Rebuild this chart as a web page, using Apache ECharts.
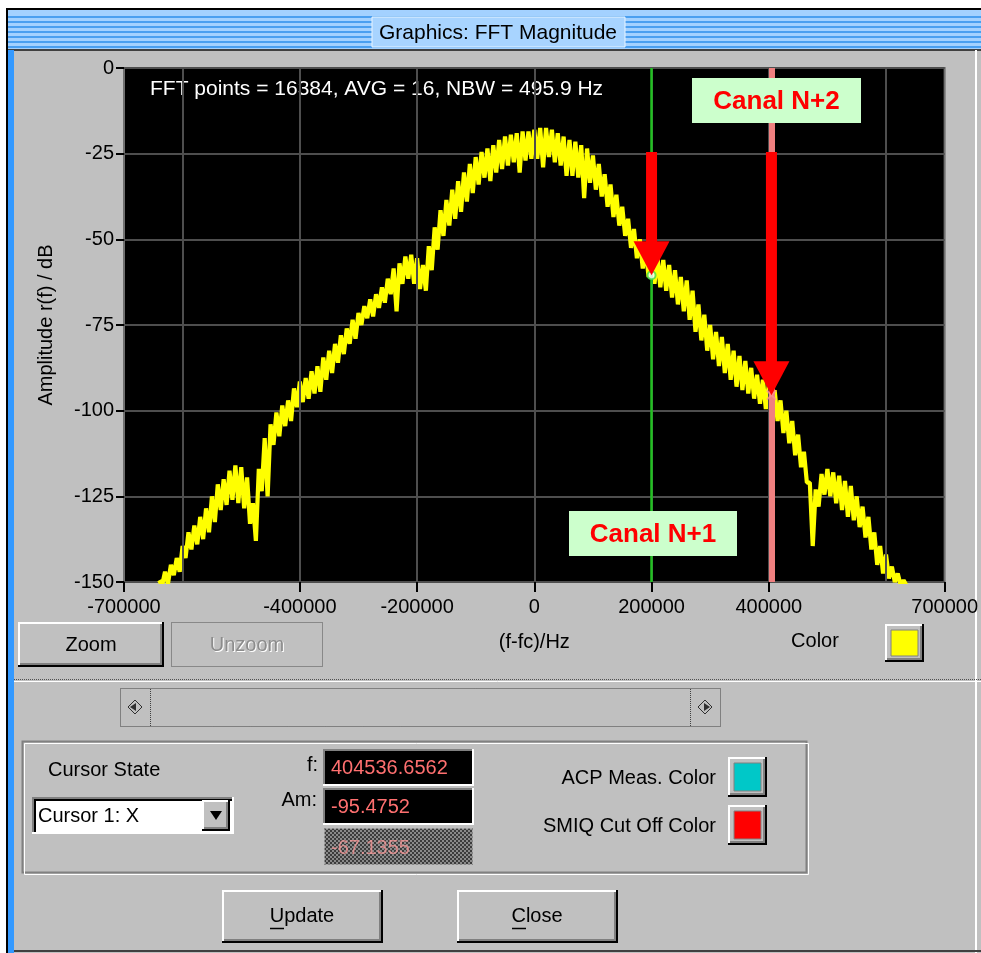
<!DOCTYPE html>
<html>
<head>
<meta charset="utf-8">
<script src="https://cdn.jsdelivr.net/npm/echarts@6/dist/echarts.min.js"></script>
<style>
  html, body { margin: 0; padding: 0; background: #c0c0c0; overflow: hidden; }
  #main { width: 981px; height: 953px; }
</style>
</head>
<body>
<div id="main"></div>
<script>
// Spectrum: FFT bins every 5 kHz starting at -640 kHz (offset from carrier)
const FREQ_START = -640000;
const FREQ_STEP = 5000;
const AMPLITUDE_DB = [
  -149.5, -151, -147, -150.5, -145, -148, -143, -147, -139.5, -143,
  -135.5, -140.5, -133.5, -139, -131, -137.5, -128.5, -135.5, -125, -132.5,
  -121.5, -129, -120, -127.5, -117.5, -126, -116, -127, -116.5, -128.5,
  -119.5, -133, -127, -138, -117, -123.5, -108, -125, -104, -110,
  -100.5, -107.5, -98.5, -104.5, -97, -103, -93.5, -99, -91.5, -97.5,
  -90.5, -96.5, -88.5, -95, -87, -94.5, -84.5, -91, -82.5, -89,
  -80.5, -86, -78, -83.5, -76, -80.5, -73.5, -79, -71.5, -75,
  -69.5, -73, -67.5, -72.5, -66, -70, -64, -68.5, -61.5, -66,
  -58.5, -71, -57, -63, -55, -61.5, -54.5, -63, -55.5, -64.5,
  -57.5, -65, -52, -59, -46.5, -53, -41.5, -49, -38.5, -46,
  -35.5, -44, -33, -42, -30.5, -39, -28, -36.5, -26, -34,
  -24.5, -32, -23.5, -33, -22.5, -30.5, -21, -29.5, -20, -28.5,
  -19.5, -27.5, -19, -30.5, -18.5, -27, -18.5, -26.5, -18, -26.5,
  -17.5, -29, -17.5, -26, -18, -27.5, -19, -28.5, -20, -31.5,
  -21, -31.5, -21.5, -32, -22.5, -38, -23.5, -33.5, -25.5, -35.5,
  -28, -37.5, -31, -40.5, -34, -43.5, -37, -46, -40.5, -49,
  -44, -52.5, -47, -55.5, -50, -58.5, -53, -61, -54, -63,
  -55, -64, -56, -65, -57.5, -67, -59, -69, -61, -71,
  -62, -73.5, -65, -77, -69, -79.5, -72, -82.5, -75, -85,
  -77, -87, -78.5, -89, -80.5, -91, -82.5, -93, -84, -94,
  -85.5, -95, -87.5, -96.5, -89.5, -98, -91, -99.5, -92.5, -100,
  -94, -103, -97, -106.5, -100, -109.5, -103, -113, -107, -116.5,
  -112, -121, -121, -139.5, -123, -128, -118.5, -124.5, -117, -125,
  -118, -127, -119, -129, -120.5, -131, -122, -132, -125, -134,
  -128, -137, -131, -140.5, -135.5, -145, -139.5, -147.5, -142, -149,
  -145.5, -150, -147.5, -151, -149.5, -151
];

// Axes
const X_MIN = -700000, X_MAX = 700000;
const X_LABELS = [-700000, -400000, -200000, 0, 200000, 400000, 700000];
const X_GRID = [-600000, -400000, -200000, 0, 200000, 400000, 600000];
const Y_MIN = -150, Y_MAX = 0, Y_STEP = 25;

// Cursors
const CURSOR_1 = { f: 404536.6562, am: -95.4752 };
const CURSOR_2 = { f: 200000, am: -60.5 };
const ARROW_TOP_DB = -24.5;

const INFO_TEXT = 'FFT points = 16384, AVG = 16, NBW = 495.9 Hz';
const WINDOW_TITLE = 'Graphics: FFT Magnitude';
const FIELD_F = '404536.6562';
const FIELD_AM = '-95.4752';
const FIELD_DISABLED = '-67.1355';

const FONT = '"Liberation Sans", Arial, sans-serif';

const spectrum = AMPLITUDE_DB.map((v, i) => [FREQ_START + i * FREQ_STEP, v]);

// ---------- dialog chrome helpers ----------
function rect(x, y, w, h, fill, extra) {
  return Object.assign({ type: 'rect', shape: { x, y, width: w, height: h }, style: { fill }, silent: true }, extra || {});
}
function frame(x, y, w, h, stroke, lw, dash) {
  return { type: 'rect', shape: { x, y, width: w, height: h },
    style: { fill: 'none', stroke, lineWidth: lw || 1, lineDash: dash || null }, silent: true };
}
function hline(x1, x2, y, stroke, lw, dash) {
  return { type: 'line', shape: { x1, y1: y, x2, y2: y }, style: { stroke, lineWidth: lw || 1, lineDash: dash || null }, silent: true };
}
function vline(x, y1, y2, stroke, lw, dash) {
  return { type: 'line', shape: { x1: x, y1, x2: x, y2 }, style: { stroke, lineWidth: lw || 1, lineDash: dash || null }, silent: true };
}
function text(x, y, str, opt) {
  return { type: 'text', x, y, silent: true,
    style: Object.assign({ text: str, fill: '#000', font: '20px ' + FONT, align: 'left', verticalAlign: 'middle' }, opt || {}) };
}
function raised(x, y, w, h) {
  return [
    rect(x, y, w, h, '#c0c0c0'),
    rect(x, y, w, 2, '#ffffff'), rect(x, y, 2, h, '#ffffff'),
    rect(x, y + h - 2, w, 2, '#000000'), rect(x + w - 2, y, 2, h, '#000000'),
    rect(x + 2, y + h - 4, w - 4, 2, '#808080'), rect(x + w - 4, y + 2, 2, h - 4, '#808080')
  ];
}
function sunken(x, y, w, h, fill) {
  return [
    rect(x, y, w, h, fill),
    rect(x, y, w, 2, '#808080'), rect(x, y, 2, h, '#808080'),
    rect(x + 2, y + 2, w - 4, 2, '#000000'), rect(x + 2, y + 2, 2, h - 4, '#000000'),
    rect(x, y + h - 2, w, 2, '#ffffff'), rect(x + w - 2, y, 2, h, '#ffffff')
  ];
}
function swatch(x, y, w, h, color) {
  return [].concat(raised(x, y, w, h), [rect(x + 6, y + 6, w - 12, h - 12, color, { style: { fill: color, stroke: '#808080', lineWidth: 1 } })]);
}

// checker pattern for the disabled read-out field
const pat = document.createElement('canvas');
pat.width = 4; pat.height = 4;
(function () {
  const c = pat.getContext('2d');
  c.fillStyle = '#8a8a8a'; c.fillRect(0, 0, 4, 4);
  c.fillStyle = '#3c3c3c'; c.fillRect(0, 0, 2, 2); c.fillRect(2, 2, 2, 2);
})();

function chrome() {
  const g = [];
  // outer area and title bar
  g.push(rect(0, 0, 981, 10, '#ffffff'));
  g.push(rect(6, 10, 975, 40, '#a3d1ff'));
  for (let y = 16; y <= 46; y += 5) g.push(rect(8, y, 973, 2, '#4a9ff0'));
  g.push(hline(6, 981, 9, '#000000', 2));
  g.push(rect(372, 17, 253, 30, '#a8d4ff', { style: { fill: '#a8d4ff', stroke: '#e8f4ff', lineWidth: 1 } }));
  g.push(text(498, 33, WINDOW_TITLE, { align: 'center', font: '21px ' + FONT }));
  g.push(hline(6, 981, 50, '#404040', 2));
  // window frame
  g.push(rect(0, 10, 6, 943, '#ffffff'));
  g.push(vline(7, 10, 953, '#000000', 2));
  g.push(rect(8, 50, 6, 903, '#3399ff'));
  g.push(vline(976, 50, 953, '#ffffff', 2));
  g.push(hline(14, 981, 951, '#404040', 2));

  // buttons under the plot
  g.push(...raised(18, 622, 146, 45));
  g.push(text(91, 645, 'Zoom', { align: 'center' }));
  g.push(frame(171.5, 622.5, 151, 44, '#505050', 1, [1, 1]));
  g.push(text(248, 646, 'Unzoom', { align: 'center', fill: '#ffffff' }));
  g.push(text(247, 645, 'Unzoom', { align: 'center', fill: '#8c8c8c' }));
  g.push(text(815, 641, 'Color', { align: 'center' }));
  g.push(...swatch(885, 624, 39, 38, '#ffff00'));

  // separator
  g.push(hline(14, 981, 679.5, '#505050', 1, [1, 1]));
  g.push(hline(14, 981, 681.5, '#ffffff', 1));

  // scrollbar
  g.push(frame(120.5, 688.5, 600, 38, '#404040', 1, [1, 1]));
  g.push(vline(150.5, 689, 726, '#404040', 1, [1, 1]));
  g.push(vline(690.5, 689, 726, '#404040', 1, [1, 1]));
  g.push({ type: 'polygon', shape: { points: [[128, 707], [135, 700], [142, 707], [135, 714]] }, style: { fill: '#c0c0c0', stroke: '#303030', lineWidth: 1 }, silent: true });
  g.push({ type: 'polygon', shape: { points: [[130, 707], [136, 703], [136, 711]] }, style: { fill: '#303030' }, silent: true });
  g.push({ type: 'polygon', shape: { points: [[698, 707], [705, 700], [712, 707], [705, 714]] }, style: { fill: '#c0c0c0', stroke: '#303030', lineWidth: 1 }, silent: true });
  g.push({ type: 'polygon', shape: { points: [[710, 707], [704, 703], [704, 711]] }, style: { fill: '#303030' }, silent: true });

  // group box
  g.push(frame(22.5, 741.5, 784, 131, '#808080', 2));
  g.push(frame(24.5, 743.5, 784, 131, '#ffffff', 1));
  g.push(text(48, 770, 'Cursor State'));
  g.push(...sunken(32, 797, 202, 37, '#ffffff'));
  g.push(text(38, 816, 'Cursor 1: X'));
  g.push(...raised(202, 800, 28, 31));
  g.push({ type: 'polygon', shape: { points: [[210, 811], [222, 811], [216, 820]] }, style: { fill: '#000' }, silent: true });

  g.push(text(318, 765, 'f:', { align: 'right' }));
  g.push(text(317, 800, 'Am:', { align: 'right' }));
  g.push(...sunken(323, 749, 151, 37, '#000000'));
  g.push(text(331, 768, FIELD_F, { fill: '#ff7070' }));
  g.push(...sunken(323, 788, 151, 37, '#000000'));
  g.push(text(331, 807, FIELD_AM, { fill: '#ff7070' }));
  g.push(rect(324, 828, 149, 37, null, { style: { fill: { image: pat, repeat: 'repeat' } } }));
  g.push(frame(324.5, 828.5, 148, 36, '#d0d0d0', 1, [1, 1]));
  g.push(text(331, 848, FIELD_DISABLED, { fill: '#ff9a9a', opacity: 0.75 }));

  g.push(text(716, 778, 'ACP Meas. Color', { align: 'right' }));
  g.push(...swatch(728, 757, 39, 40, '#00c8c8'));
  g.push(text(716, 826, 'SMIQ Cut Off Color', { align: 'right' }));
  g.push(...swatch(728, 805, 39, 40, '#ff0000'));

  // dialog buttons
  g.push(...raised(222, 890, 161, 53));
  g.push(text(302, 916, 'Update', { align: 'center' }));
  g.push(hline(270, 284, 928.5, '#000', 1.5));
  g.push(...raised(457, 890, 161, 53));
  g.push(text(537, 916, 'Close', { align: 'center' }));
  g.push(hline(512, 526, 928.5, '#000', 1.5));

  // measurement info inside the plot
  g.push(text(150, 89, INFO_TEXT, { fill: '#ffffff', font: '21px ' + FONT }));
  return g;
}

const chart = echarts.init(document.getElementById('main'), null, { renderer: 'canvas' });

chart.setOption({
  animation: false,
  backgroundColor: '#c0c0c0',
  grid: {
    left: 124, top: 68, width: 823, height: 514,
    show: true, backgroundColor: '#000000', borderColor: '#707070', borderWidth: 2
  },
  xAxis: {
    type: 'value', min: X_MIN, max: X_MAX, interval: 100000,
    axisLine: { show: false, onZero: false },
    splitLine: { show: false },
    axisTick: { show: true, customValues: X_LABELS, length: 10, lineStyle: { color: '#000', width: 2 } },
    axisLabel: { customValues: X_LABELS, margin: 15, fontSize: 20, fontFamily: FONT, color: '#000',
      formatter: v => String(v) },
    name: '(f-fc)/Hz', nameLocation: 'middle', nameGap: 50,
    nameTextStyle: { fontSize: 20, fontFamily: FONT, color: '#000' }
  },
  yAxis: {
    type: 'value', min: Y_MIN, max: Y_MAX, interval: Y_STEP,
    axisLine: { show: false, onZero: false },
    axisTick: { show: true, length: 8, lineStyle: { color: '#000', width: 2 } },
    axisLabel: { margin: 10, fontSize: 20, fontFamily: FONT, color: '#000', formatter: v => String(v) },
    splitLine: { show: true, lineStyle: { color: '#4e4e4e', width: 2 } },
    name: 'Amplitude r(f) / dB', nameLocation: 'middle', nameGap: 68, nameRotate: 90,
    nameTextStyle: { fontSize: 20, fontFamily: FONT, color: '#000' }
  },
  series: [
    {
      name: 'grid', type: 'line', data: [], z: 1, silent: true,
      markLine: {
        silent: true, symbol: 'none', label: { show: false },
        lineStyle: { color: '#4e4e4e', width: 2, type: 'solid' },
        data: X_GRID.map(v => ({ xAxis: v }))
      }
    },
    {
      name: 'spectrum', type: 'line', data: spectrum, z: 3,
      showSymbol: false, symbol: 'none', clip: true,
      lineStyle: { color: '#ffff00', width: 4.2, join: 'bevel' }
    },
    {
      name: 'cursors', type: 'line', data: [], z: 4, silent: true,
      markLine: {
        silent: true, symbol: 'none', label: { show: false },
        data: [
          { xAxis: CURSOR_2.f, lineStyle: { color: '#22c022', width: 2.5, type: 'solid' } },
          { xAxis: CURSOR_1.f, lineStyle: { color: '#f08080', width: 6, type: 'solid' } }
        ]
      }
    },
    {
      name: 'cursor2', type: 'scatter', z: 5, silent: true,
      data: [[CURSOR_2.f, CURSOR_2.am]],
      symbol: 'emptyCircle', symbolSize: 8,
      itemStyle: { color: '#40e040', borderWidth: 2 }
    },
    {
      name: 'cursor1', type: 'scatter', z: 5, silent: true,
      data: [[CURSOR_1.f, CURSOR_1.am]],
      symbol: 'path://M0,0L8,8M8,0L0,8', symbolSize: 9,
      itemStyle: { color: 'none', borderColor: '#ff9090', borderWidth: 2 }
    }
  ]
});

// annotation arrows anchored to the cursor readings
function arrow(f, db) {
  const tip = chart.convertToPixel({ gridIndex: 0 }, [f, db]);
  const top = chart.convertToPixel({ gridIndex: 0 }, [f, ARROW_TOP_DB]);
  const headH = 34, headW = 36, shaft = 11;
  return [
    rect(tip[0] - shaft / 2, top[1], shaft, tip[1] - headH - top[1] + 1, '#ff0000', { z: 100 }),
    { type: 'polygon', z: 100, silent: true,
      shape: { points: [[tip[0] - headW / 2, tip[1] - headH], [tip[0] + headW / 2, tip[1] - headH], [tip[0], tip[1]]] },
      style: { fill: '#ff0000' } }
  ];
}
function tag(x, y, w, h, label) {
  return [
    rect(x, y, w, h, '#ccffcc', { z: 100 }),
    { type: 'text', z: 101, silent: true, x: x + w / 2, y: y + h / 2 + 1,
      style: { text: label, fill: '#ff0000', font: 'bold 26px ' + FONT, align: 'center', verticalAlign: 'middle' } }
  ];
}

const elements = chrome()
  .concat(arrow(CURSOR_2.f, CURSOR_2.am))
  .concat(arrow(CURSOR_1.f, CURSOR_1.am))
  .concat(tag(692, 78, 169, 45, 'Canal N+2'))
  .concat(tag(569, 511, 168, 45, 'Canal N+1'));

chart.setOption({ graphic: { elements } });
</script>
</body>
</html>
